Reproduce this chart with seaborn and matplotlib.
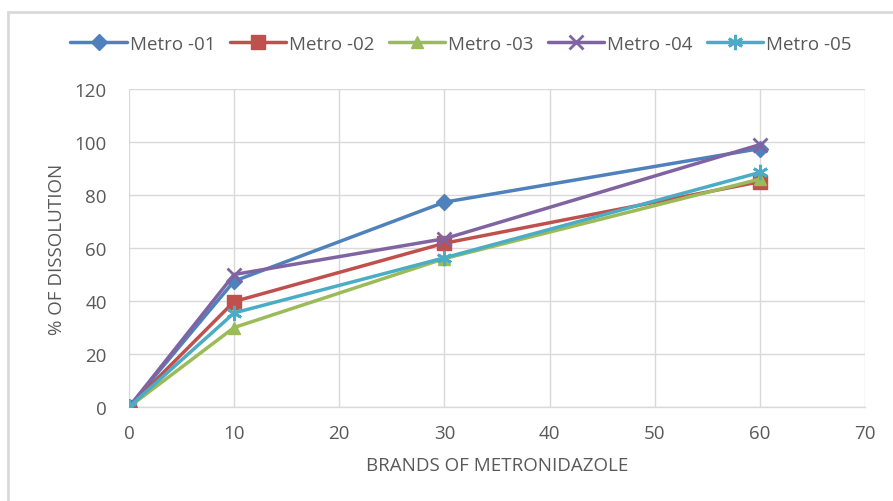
import matplotlib
matplotlib.use("Agg")
import matplotlib.pyplot as plt
import seaborn as sns
import pandas as pd
from matplotlib.patches import Rectangle

time_min = [0, 10, 30, 60]
metro_01 = [0, 47.5, 77.3, 97.5]
metro_02 = [0, 39.8, 61.8, 85.0]
metro_03 = [0, 30.0, 56.0, 86.0]
metro_04 = [0, 50.0, 63.5, 99.0]
metro_05 = [0, 35.5, 56.3, 88.5]
series_names = ["Metro -01", "Metro -02", "Metro -03", "Metro -04", "Metro -05"]

colors = ["#4F81BD", "#C0504D", "#9BBB59", "#8064A2", "#4BACC6"]
markers = ["D", "s", "^", "x", (6, 2, 0)]
marker_sizes = [8, 10, 9, 10, 11]

frames = []
for name, vals in zip(series_names, [metro_01, metro_02, metro_03, metro_04, metro_05]):
    frames.append(pd.DataFrame({"time": time_min, "dissolution": vals, "brand": name}))
df = pd.concat(frames, ignore_index=True)

sns.set_theme(style="white")
plt.rcParams["font.family"] = ["Open Sans", "DejaVu Sans"]

fig = plt.figure(figsize=(8.93, 5.02), dpi=100)
ax = fig.add_axes([129 / 893, 1 - 408 / 502, (865 - 129) / 893, (408 - 90) / 502])

grid_col = "#D9D9D9"
text_col = "#595959"
fs = 13.5

for i, name in enumerate(series_names):
    sub = df[df["brand"] == name]
    sns.lineplot(data=sub, x="time", y="dissolution", ax=ax, color=colors[i],
                 linewidth=2.5, marker=markers[i], markersize=marker_sizes[i],
                 markeredgecolor=colors[i], markeredgewidth=2 if i >= 3 else 1,
                 label=name, zorder=3 + i)

ax.set_xlim(0, 70)
ax.set_ylim(0, 120)
ax.set_xticks(range(0, 71, 10))
ax.set_yticks(range(0, 121, 20))
ax.grid(True, color=grid_col, linewidth=1)
ax.set_axisbelow(True)
for side in ["top", "right", "left"]:
    ax.spines[side].set_visible(False)
ax.spines["bottom"].set_color(grid_col)
ax.spines["bottom"].set_linewidth(1)
ax.tick_params(axis="y", colors=text_col, labelsize=fs, length=0, pad=16)
ax.tick_params(axis="x", colors=text_col, labelsize=fs, length=0, pad=12)
ax.set_xlabel("BRANDS OF METRONIDAZOLE", color=text_col, fontsize=fs, labelpad=10)
ax.set_ylabel("% OF DISSOLUTION", color=text_col, fontsize=fs, labelpad=6)

leg = ax.legend(loc="center", bbox_to_anchor=(461 / 893, 1 - 45 / 502), bbox_transform=fig.transFigure,
                ncol=5, frameon=False, fontsize=fs, handlelength=3.0, columnspacing=0.78,
                handletextpad=0.15, labelcolor=text_col)

# chart frame
fig.patches.append(Rectangle((8 / 893, -0.1), 1.2, 1 - 13 / 502 + 0.1, transform=fig.transFigure,
                             fill=False, edgecolor="#D9D9D9", linewidth=2, zorder=0))

fig.savefig("out.png", dpi=100)
